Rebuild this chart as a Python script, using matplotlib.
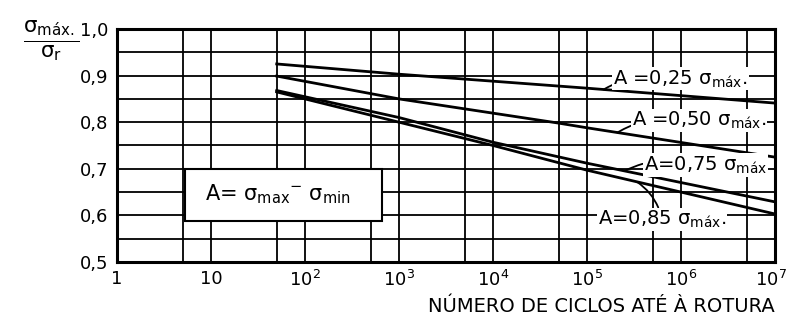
import numpy as np
import matplotlib
matplotlib.use("Agg")
import matplotlib.pyplot as plt
from matplotlib.patches import Rectangle
from matplotlib.transforms import ScaledTranslation

# ---- data ----
cycles_025 = [50, 1e3, 1e5, 1e7]
ratio_025 = [0.925, 0.903, 0.873, 0.841]

cycles_050 = [50, 1e3, 5e4, 1e5, 1e7]
ratio_050 = [0.899, 0.850, 0.798, 0.788, 0.725]

cycles_075 = [50, 1e3, 1e4, 1e5, 1e7]
ratio_075 = [0.868, 0.810, 0.757, 0.712, 0.629]

cycles_085 = [50, 1e3, 1e4, 1e5, 1e7]
ratio_085 = [0.865, 0.800, 0.750, 0.697, 0.603]

series_labels = ["A =0,25 ", "A =0,50 ", "A=0,75 ", "A=0,85 "]
series_ends = [".", ".", "", "."]
y_ticks = [0.5, 0.6, 0.7, 0.8, 0.9, 1.0]
y_ticklabels = ["0,5", "0,6", "0,7", "0,8", "0,9", "1,0"]
x_ticks = [1, 10, 1e2, 1e3, 1e4, 1e5, 1e6, 1e7]
x_ticklabels = ["1", "10", r"$10^2$", r"$10^3$", r"$10^4$", r"$10^5$", r"$10^6$", r"$10^7$"]
x_minor = [5, 50, 500, 5e3, 5e4, 5e5, 5e6]

plt.rcParams['font.family'] = ['DejaVu Sans']
plt.rcParams['mathtext.fontset'] = 'dejavusans'

fig = plt.figure(figsize=(7.89, 3.27), dpi=100)
ax = fig.add_axes([0.1483, 0.1988, 0.834, 0.7125])
ax.set_xscale('log')
ax.set_xlim(1, 1e7)
ax.set_ylim(0.5, 1.0)

# grid
ax.set_xticks(x_ticks)
ax.set_xticklabels(x_ticklabels, fontsize=13)
ax.set_xticks(x_minor, minor=True)
ax.set_xticklabels([], minor=True)
ax.set_yticks(y_ticks)
ax.set_yticklabels(y_ticklabels, fontsize=13)
ax.set_yticks(np.arange(0.55, 1.0, 0.1), minor=True)
ax.tick_params(which='both', length=0, pad=6)
ax.grid(True, which='both', color='black', linewidth=1.3, zorder=1)
ax.set_axisbelow(True)
for s in ax.spines.values():
    s.set_linewidth(2.2)
    s.set_zorder(6)
# keep the last x tick label inside the figure
lastlab = ax.get_xticklabels()[-1]
lastlab.set_transform(lastlab.get_transform() + ScaledTranslation(-4/100, 0, fig.dpi_scale_trans))

series = [(cycles_025, ratio_025), (cycles_050, ratio_050),
          (cycles_075, ratio_075), (cycles_085, ratio_085)]
for cx, cy in series:
    ax.plot(cx, cy, color='black', linewidth=2.0, zorder=3)

# labels with leader lines
label_pos = [(1.9e5, 0.893, 1.5e5), (3.0e5, 0.803, 2.1e5),
             (4.0e5, 0.708, 2.5e5), (1.3e5, 0.592, 3.4e5)]
for (cx, cy), lab, end, (tx, ty, px) in zip(series, series_labels, series_ends, label_pos):
    py = np.interp(np.log10(px), np.log10(cx), cy)
    ax.annotate(lab + r"$\mathrm{σ}_{\mathrm{máx}}$" + end, xy=(px, py), xytext=(tx, ty),
                ha='left', va='center', fontsize=14, zorder=4,
                bbox=dict(boxstyle='square,pad=0.05', fc='white', ec='none'),
                arrowprops=dict(arrowstyle='-', color='black', lw=1.3,
                                connectionstyle='arc3,rad=0.2', shrinkA=0, shrinkB=0))

# formula box
ax.add_patch(Rectangle((0.103, 0.176), 0.300, 0.223, transform=ax.transAxes,
                       fc='white', ec='black', lw=1.5, zorder=5))
ax.text(0.134, 0.29, r"A= $\mathrm{σ}_{\mathrm{max}}$$^{-}$ $\mathrm{σ}_{\mathrm{min}}$",
        transform=ax.transAxes, ha='left', va='center', fontsize=15, zorder=6)

# axis titles
ax.set_xlabel("NÚMERO DE CICLOS ATÉ À ROTURA", fontsize=14, loc='right', labelpad=5)
fig.text(0.065, 0.875, r"$\frac{\mathrm{σ}_{\mathrm{máx.}}}{\mathrm{σ}_{\mathrm{r}}}$", fontsize=22,
         ha='center', va='center')

fig.savefig("out.png", dpi=100)
